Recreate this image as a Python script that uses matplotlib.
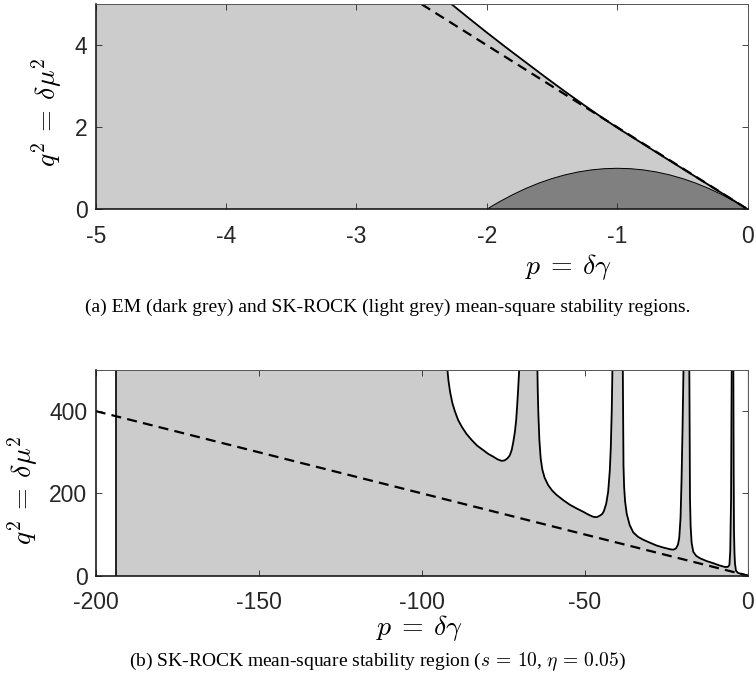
import matplotlib
matplotlib.use("Agg")
import matplotlib.pyplot as plt
from matplotlib.ticker import FuncFormatter

plt.rcParams["font.family"] = ["Liberation Sans", "DejaVu Sans"]
plt.rcParams["mathtext.fontset"] = "cm"

# (a) values
p_sk = [-2.27, -2.15, -2.0, -1.85, -1.7, -1.55, -1.4, -1.25, -1.1, -1.0,
        -0.8, -0.6, -0.4, -0.2, 0.0]
q_sk = [5.0, 4.69, 4.31, 3.94, 3.58, 3.22, 2.87, 2.53, 2.20, 1.99,
        1.59, 1.19, 0.795, 0.398, 0.0]
p_em = [-2.0, -1.95, -1.9, -1.8, -1.7, -1.6, -1.5, -1.4, -1.3, -1.2, -1.1, -1.0,
        -0.9, -0.8, -0.7, -0.6, -0.5, -0.4, -0.3, -0.2, -0.1, -0.05, 0.0]
q_em = [0.0, 0.10, 0.19, 0.36, 0.51, 0.64, 0.75, 0.84, 0.91, 0.96, 0.99, 1.0,
        0.99, 0.96, 0.91, 0.84, 0.75, 0.64, 0.51, 0.36, 0.19, 0.10, 0.0]
p_ref_a = [-2.5, 0.0]
q_ref_a = [5.0, 0.0]

# (b) white pockets above the SK-ROCK boundary (s=10, eta=0.05)
p_b1 = [-92.1, -91.8, -91.3, -90.6, -89.8, -88.8, -87.7, -86.3, -84.7, -83.0,
        -81.1, -79.6, -78.0, -76.8, -75.5, -74.6, -73.7, -73.0, -72.4, -71.9,
        -71.4, -71.0, -70.7, -70.4, -70.1]
q_b1 = [500, 475, 447, 420, 399, 378, 362, 345, 330, 316,
        305, 296, 289, 283, 279, 280, 285, 292, 305, 325,
        350, 380, 415, 455, 500]
p_b2 = [-64.5, -64.4, -64.2, -63.9, -63.5, -63.0, -62.3, -61.2, -60.0, -58.6,
        -56.5, -54.5, -52.4, -50.4, -48.8, -47.4, -46.3, -45.3, -44.6, -44.1,
        -43.4, -42.8, -42.3, -42.0, -41.7, -41.5]
q_b2 = [500, 450, 391, 330, 285, 258, 238, 220, 207, 196,
        183, 172, 163, 155, 148, 143, 142, 146, 150, 157,
        175, 204, 255, 310, 400, 500]
p_b3 = [-38.3, -38.2, -38.1, -37.9, -37.6, -37.1, -36.2, -35.1, -33.6, -32.0,
        -30.0, -27.9, -25.8, -23.8, -22.8, -22.0, -21.4, -21.0, -20.6, -20.3,
        -20.0, -19.7]
q_b3 = [500, 380, 269, 215, 180, 150, 123, 105, 94, 87,
        80, 73, 68, 64, 63, 66, 75, 91, 140, 228,
        350, 500]
p_b4 = [-17.9, -17.8, -17.7, -17.5, -17.2, -16.7, -15.8, -14.6, -12.5, -10.5,
        -8.8, -7.0, -6.1, -5.6, -5.35, -5.1, -5.0, -4.9]
q_b4 = [500, 350, 188, 120, 80, 58, 48, 42, 35, 30,
        25, 21, 21, 26, 60, 188, 350, 500]
p_b5 = [-4.4, -4.3, -4.2, -4.05, -3.9, -3.6, -3.0, -1.5, 0.0]
q_b5 = [500, 250, 107, 55, 30, 12, 6.5, 3.0, 0.0]
p_edge = -193.8
p_ref_b = [-200, 0]
q_ref_b = [400, 0]

light = "#cccccc"
dark = "#808080"
dash = (0, (4.5, 2.8))

fig = plt.figure(figsize=(7.56, 6.81), dpi=100)
ax1 = fig.add_axes([0.1266, 0.6927, 0.8624, 0.3010])
ax2 = fig.add_axes([0.1266, 0.1548, 0.8624, 0.3019])

# --- (a) ---
ax1.fill([-5, -5] + p_sk, [0, 5] + q_sk, color=light, lw=0)
ax1.fill(p_em, q_em, color=dark, lw=0)
ax1.plot(p_sk, q_sk, color="k", lw=1.3)
ax1.plot(p_em, q_em, color="k", lw=0.7)
ax1.plot(p_ref_a, q_ref_a, color="k", lw=1.6, ls=dash)
ax1.set_xlim(-5, 0)
ax1.set_ylim(0, 5)
ax1.set_xticks([-5, -4, -3, -2, -1, 0])
ax1.set_yticks([0, 2, 4])
ax1.text(0.725, -0.28, r"$p\:=\:\delta\gamma$", transform=ax1.transAxes,
         ha="center", va="center", fontsize=20)
ax1.text(-0.075, 0.475, r"$q^2\:=\:\delta\mu^2$", transform=ax1.transAxes,
         ha="center", va="center", fontsize=20, rotation=90)

# --- (b) ---
ax2.fill([p_edge, p_edge, 0, 0], [0, 500, 500, 0], color=light, lw=0)
for pp, qq in [(p_b1, q_b1), (p_b2, q_b2), (p_b3, q_b3), (p_b4, q_b4)]:
    ax2.fill(pp, qq, color="white", lw=0)
    ax2.plot(pp, qq, color="k", lw=1.3)
ax2.fill(p_b5 + [0], q_b5 + [500], color="white", lw=0)
ax2.plot(p_b5, q_b5, color="k", lw=1.3)
ax2.axvline(p_edge, color="k", lw=1.2)
ax2.plot(p_ref_b, q_ref_b, color="k", lw=1.6, ls=dash)
ax2.set_xlim(-200, 0)
ax2.set_ylim(0, 500)
ax2.set_xticks([-200, -150, -100, -50, 0])
ax2.set_yticks([0, 200, 400])
ax2.text(0.497, -0.255, r"$p\:=\:\delta\gamma$", transform=ax2.transAxes,
         ha="center", va="center", fontsize=20)
ax2.text(-0.1115, 0.416, r"$q^2\:=\:\delta\mu^2$", transform=ax2.transAxes,
         ha="center", va="center", fontsize=20, rotation=90)

for ax in (ax1, ax2):
    ax.tick_params(direction="in", top=True, right=True, length=4.5, width=0.6,
                   color="#262626", labelsize=16.5, labelcolor="#262626")
    ax.tick_params(axis="x", pad=11)
    ax.tick_params(axis="y", pad=6)
    ax.xaxis.set_major_formatter(FuncFormatter(lambda v, _: "%g" % v))
    for side in ("top", "right"):
        ax.spines[side].set_color("#555555")
        ax.spines[side].set_linewidth(0.7)
    for side in ("left", "bottom"):
        ax.spines[side].set_color("#1a1a1a")
        ax.spines[side].set_linewidth(1.2)

serif = ["Liberation Serif", "DejaVu Serif"]
fig.text(388 / 756, 1 - 307 / 681,
         "(a) EM (dark grey) and SK-ROCK (light grey) mean-square stability regions.",
         ha="center", va="center", fontsize=14, family=serif)
fig.text(377.5 / 756, 1 - 662 / 681,
         r"(b) SK-ROCK mean-square stability region ($s\,=\,10$, $\eta\,=\,0.05$)",
         ha="center", va="center", fontsize=14, family=serif)

plt.savefig("out.png", dpi=100)
